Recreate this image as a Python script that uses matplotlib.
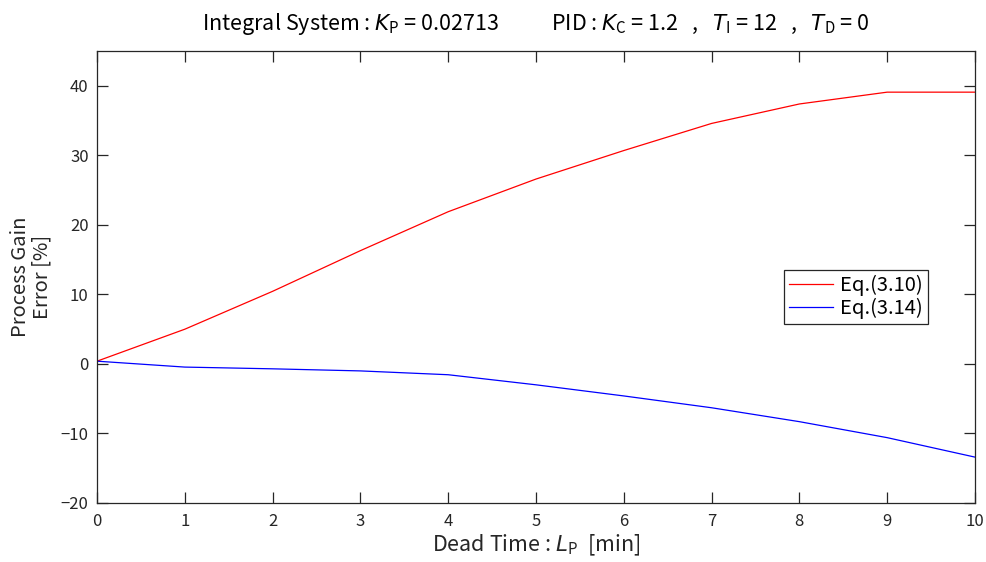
import numpy as np
import matplotlib.pyplot as plt

plt.rcParams['font.family'] = ['Noto Sans CJK JP', 'DejaVu Sans']
plt.rcParams['mathtext.fontset'] = 'custom'
plt.rcParams['mathtext.rm'] = 'Noto Sans CJK JP'
plt.rcParams['mathtext.it'] = 'DejaVu Sans:italic'
plt.rcParams['axes.unicode_minus'] = True

# 無駄時間 L_P [min]
dead_time = [0, 1, 2, 3, 4, 5, 6, 7, 8, 9, 10]
# プロセスゲイン誤差 [%]
err_eq310 = [0.4, 5.0, 10.45, 16.3, 21.9, 26.6, 30.7, 34.6, 37.4, 39.1, 39.1]
err_eq314 = [0.4, -0.45, -0.7, -1.0, -1.55, -3.0, -4.6, -6.3, -8.3, -10.6, -13.4]

xticks = list(range(0, 11))
yticks = [-20, -10, 0, 10, 20, 30, 40]

fig = plt.figure(figsize=(9.86, 5.62), dpi=100)
ax = fig.add_axes([0.0984, 0.105, 0.8904, 0.804])

ax.plot(dead_time, err_eq310, color='#ff0000', lw=0.9, label='Eq.(3.10)')
ax.plot(dead_time, err_eq314, color='#0000ff', lw=0.9, label='Eq.(3.14)')

ax.set_xlim(0, 10)
ax.set_ylim(-20, 45)
ax.set_xticks(xticks)
ax.set_yticks(yticks)

axc = '#262626'
for s in ax.spines.values():
    s.set_color(axc)
    s.set_linewidth(0.9)
ax.tick_params(direction='in', length=8, width=0.9, color=axc,
               top=True, right=True, labelsize=12, labelcolor=axc)
ax.tick_params(axis='x', pad=7)
ax.tick_params(axis='y', pad=6)

ax.set_xlabel(r'Dead Time : $\mathit{L}_\mathrm{P}$  [min]', fontsize=15.5, color=axc, labelpad=2)
ax.set_ylabel('Process Gain\nError [%]', fontsize=14.5, color=axc, labelpad=6, linespacing=1.0)
ax.set_title(r'Integral System : $\mathit{K}_\mathrm{P}$ = 0.02713           '
             r'PID : $\mathit{K}_\mathrm{C}$ = 1.2   ,   $\mathit{T}_\mathrm{I}$ = 12   ,   '
             r'$\mathit{T}_\mathrm{D}$ = 0',
             fontsize=15.5, color='black', pad=15)

leg = ax.legend(loc='upper right', bbox_to_anchor=(0.9465, 0.5155), fontsize=14.5,
                frameon=True, fancybox=False, framealpha=1, edgecolor=axc,
                handlelength=2.2, borderpad=0.25, labelspacing=0.1, handletextpad=0.35,
                borderaxespad=0)
leg.get_frame().set_linewidth(0.9)

fig.savefig('out.png', dpi=100)
